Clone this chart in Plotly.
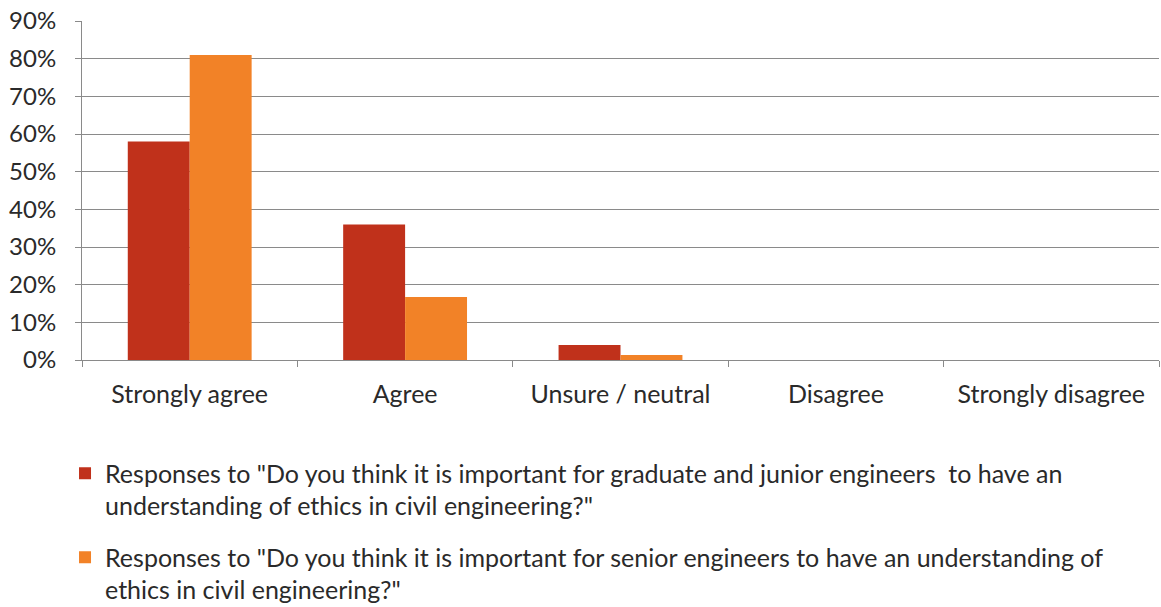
import plotly.graph_objects as go

categories = ["Strongly agree", "Agree", "Unsure / neutral", "Disagree", "Strongly disagree"]
junior_pct = [0.58, 0.36, 0.04, 0.0, 0.0]
senior_pct = [0.81, 0.167, 0.013, 0.0, 0.0]
junior_name = 'Responses to "Do you think it is important for graduate and junior engineers  to have an<br>understanding of ethics in civil engineering?"'
senior_name = 'Responses to "Do you think it is important for senior engineers to have an understanding of<br>ethics in civil engineering?"'

FONT = "Lato"
GRID = "#8a8a8a"
TEXT = "#2a2a2a"

fig = go.Figure()
fig.add_trace(go.Bar(x=categories, y=junior_pct, name=junior_name, legendgroup="junior",
                     marker=dict(color="#c0311b", line=dict(width=0))))
fig.add_trace(go.Bar(x=categories, y=senior_pct, name=senior_name, legendgroup="senior",
                     marker=dict(color="#f28227", line=dict(width=0))))

fig.update_layout(
    width=1161, height=607,
    margin=dict(l=82, r=2, t=21, b=247, autoexpand=False),
    paper_bgcolor="white", plot_bgcolor="white",
    barmode="group", bargap=0.425, bargroupgap=0,
    font=dict(family=FONT, size=24, color=TEXT),
    showlegend=True,
    legend=dict(
        orientation="v", xref="container", yref="container",
        x=0.056, y=0.258, xanchor="left", yanchor="top",
        font=dict(family=FONT, size=25, color=TEXT),
        tracegroupgap=16, itemwidth=30, traceorder="grouped", valign="top",
        bgcolor="rgba(0,0,0,0)",
    ),
)
fig.update_xaxes(
    type="category", showgrid=False, showline=True, linecolor=GRID, linewidth=1,
    ticks="outside", tickson="boundaries", ticklen=6, tickcolor=GRID,
    ticklabelstandoff=12,
    tickfont=dict(family=FONT, size=25, color=TEXT),
)
fig.update_yaxes(
    range=[0, 0.9], dtick=0.1, tickformat=".0%",
    showgrid=True, gridcolor=GRID, gridwidth=1,
    showline=True, linecolor=GRID, linewidth=1,
    ticks="outside", ticklen=6, tickcolor=GRID, zeroline=False,
    ticklabelstandoff=14,
    tickfont=dict(family=FONT, size=24, color=TEXT),
)

fig.write_html("out.html")
